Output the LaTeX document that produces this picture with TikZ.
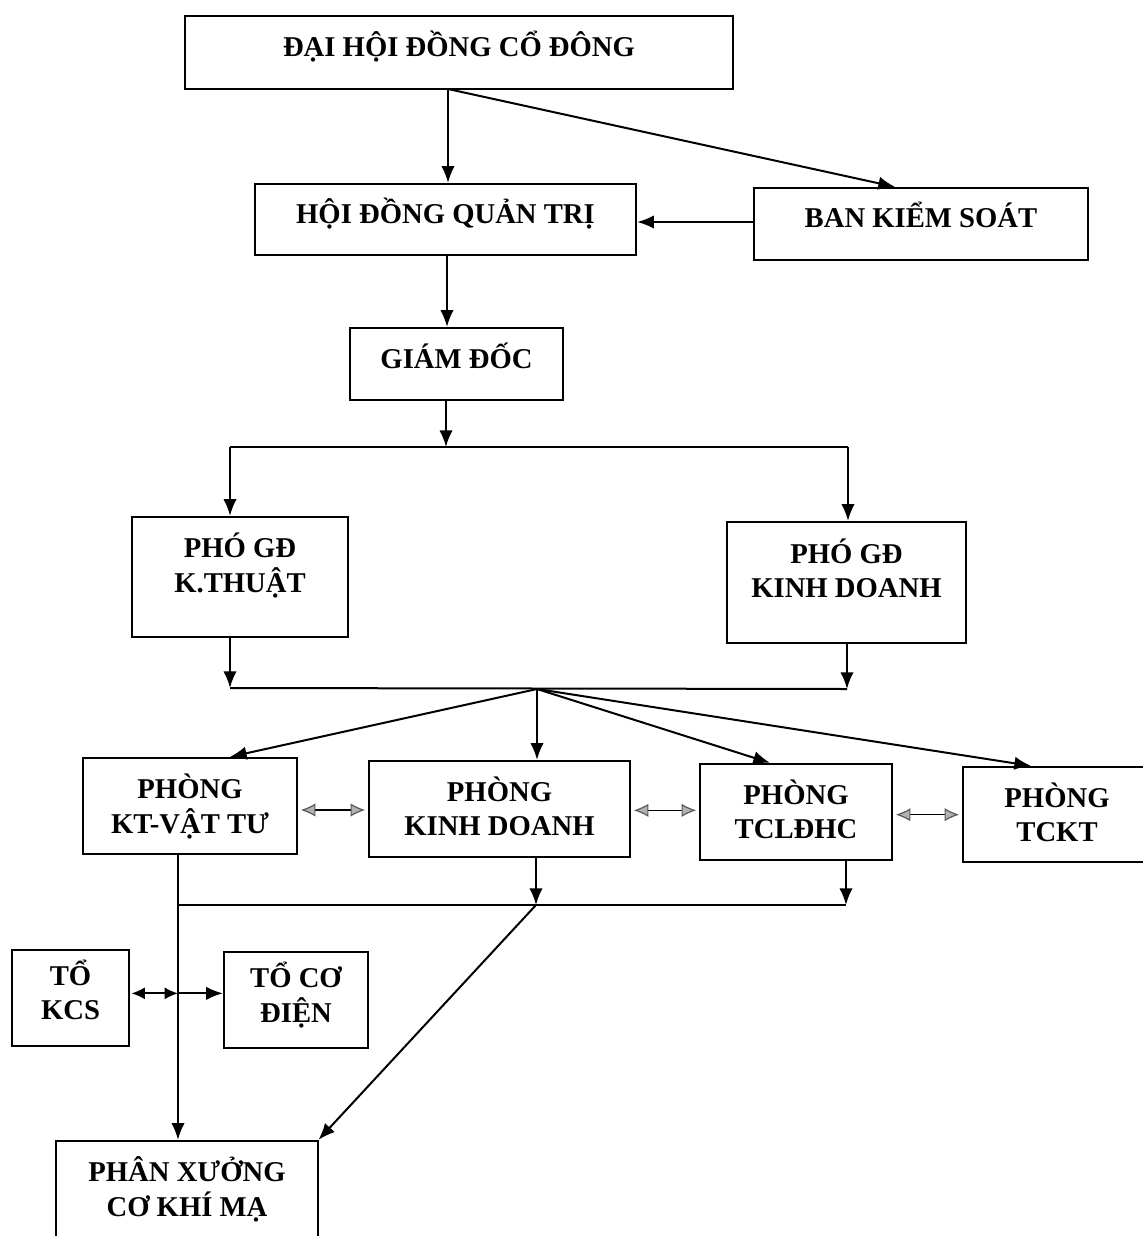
\documentclass[tikz,border=0pt]{standalone}
\usepackage{fontspec}
\setmainfont{Liberation Serif}
\usetikzlibrary{arrows.meta,calc}
\newcommand\uptext[2]{\raisebox{#1}[\height][\depth]{\begin{tabular}{@{}c@{}}#2\end{tabular}}}
\begin{document}
\begin{tikzpicture}[x=0.75pt,y=-0.75pt,
  box/.style={draw, line width=1.7pt, align=center, inner sep=0pt,
    font=\fontsize{21.5}{25.5}\selectfont\bfseries},
  sz/.style 2 args={minimum width=#1*0.75pt, minimum height=#2*0.75pt},
  conn/.style={line width=1.5pt},
  arr/.style={conn, -{Latex[length=12.5pt,width=10pt]}},
  dbl/.style={line width=0.9pt, {Latex[length=11pt,width=10pt,fill=gray!60,color=gray!70!black]}-{Latex[length=11pt,width=10pt,fill=gray!60,color=gray!70!black]}, shorten <=2pt, shorten >=2pt},
  dblk/.style={line width=1.3pt, {Latex[length=10pt,width=9pt]}-{Latex[length=10pt,width=9pt]}, shorten <=1pt}
]
\useasboundingbox (0,0) rectangle (1143,1236);
\clip (0,0) rectangle (1143,1236);
\fill[white] (0,0) rectangle (1143,1236);

% boxes
\node[box, sz={548}{73}] (dh) at (459,52.5) {\uptext{2.9pt}{ĐẠI HỘI ĐỒNG CỔ ĐÔNG}};
\node[box, sz={381}{71}] (hd) at (445.5,219.5) {\uptext{2.9pt}{HỘI ĐỒNG QUẢN TRỊ}};
\node[box, sz={334}{72}] (bks) at (921,224) {\uptext{3.25pt}{BAN KIỂM SOÁT}};
\node[box, sz={213}{72}] (gd) at (456.5,364) {\uptext{2.5pt}{GIÁM ĐỐC}};
\node[box, sz={216}{120}] (pkt) at (240,577) {\uptext{7pt}{PHÓ GĐ\\K.THUẬT}};
\node[box, sz={239}{121}] (pkd) at (846.5,582.5) {\uptext{7pt}{PHÓ GĐ\\KINH DOANH}};
\node[box, sz={214}{96}] (vt) at (190,806) {\uptext{-2pt}{PHÒNG\\KT-VẬT TƯ}};
\node[box, sz={261}{96}] (kd) at (499.5,809) {\uptext{-1.6pt}{PHÒNG\\KINH DOANH}};
\node[box, sz={192}{96}] (tc) at (796,812) {\uptext{-1.6pt}{PHÒNG\\TCLĐHC}};
\node[box, sz={188}{95}] (tk) at (1057,814.5) {\uptext{-2pt}{PHÒNG\\TCKT}};
\node[box, sz={117}{96}] (kcs) at (70.5,998) {\uptext{2.1pt}{TỔ\\KCS}};
\node[box, sz={144}{96}] (ctd) at (296,1000) {\uptext{1.75pt}{TỔ CƠ\\ĐIỆN}};
\node[box, sz={262}{96}] (px) at (187,1189) {\uptext{-2pt}{PHÂN XƯỞNG\\CƠ KHÍ MẠ}};

% bus points
\coordinate (t1) at (448,89);
\coordinate (b1) at (446,447);
\coordinate (b1l) at (230,447);
\coordinate (b1r) at (848,447);
\coordinate (b2) at (537,689);
\coordinate (b2l) at (230,688);
\coordinate (b2r) at (847,689);
\coordinate (b3) at (536,905);
\coordinate (b3l) at (178,905);
\coordinate (b3r) at (846,905);

% top
\draw[arr] (t1) -- (t1 |- hd.north);
\draw[arr] (t1) -- ([xshift=-19.5pt]bks.north);
\draw[arr] ([yshift=1.5pt]bks.west) -- ([yshift=1.5pt]bks.west -| hd.east);
\draw[arr] (hd.south -| 447,0) -- (gd.north -| 447,0);

% director bus
\draw[arr] (gd.south -| b1) -- (b1);
\draw[conn] (b1l) -- (b1r);
\draw[arr] (b1l) -- (b1l |- pkt.north);
\draw[arr] (b1r) -- (b1r |- pkd.north);

% deputies bus
\draw[arr] (pkt.south -| b2l) -- (b2l);
\draw[arr] (pkd.south -| b2r) -- (b2r);
\draw[conn] (b2l) -- (b2r);

% fan to departments
\draw[arr] (b2) -- ([xshift=30pt]vt.north);
\draw[arr] (b2) -- (b2 |- kd.north);
\draw[arr] (b2) -- ([xshift=-19.5pt]tc.north);
\draw[arr] (b2) -- ([xshift=-19.5pt]tk.north);

% between departments
\draw[dbl] ([yshift=-3pt]vt.east) -- ([yshift=-3pt]vt.east -| kd.west);
\draw[dbl] ([yshift=-1pt]kd.east) -- ([yshift=-1pt]kd.east -| tc.west);
\draw[dbl] ([yshift=-2pt]tc.east) -- ([yshift=-2pt]tc.east -| tk.west);

% lower bus
\draw[arr] (vt.south -| b3l) -- (b3l |- px.north);
\draw[arr] (kd.south -| b3) -- (b3);
\draw[arr] (tc.south -| b3r) -- (b3r);
\draw[conn] (b3l) -- (b3r);
\draw[arr] (b3) -- ([xshift=-0.5pt]px.north east);

% teams
\draw[dblk] ([yshift=3.5pt]kcs.east) -- ([yshift=3.5pt]kcs.east -| b3l);
\draw[arr] ([yshift=5pt]ctd.west -| b3l) -- ([yshift=5pt]ctd.west);
\end{tikzpicture}
\end{document}
